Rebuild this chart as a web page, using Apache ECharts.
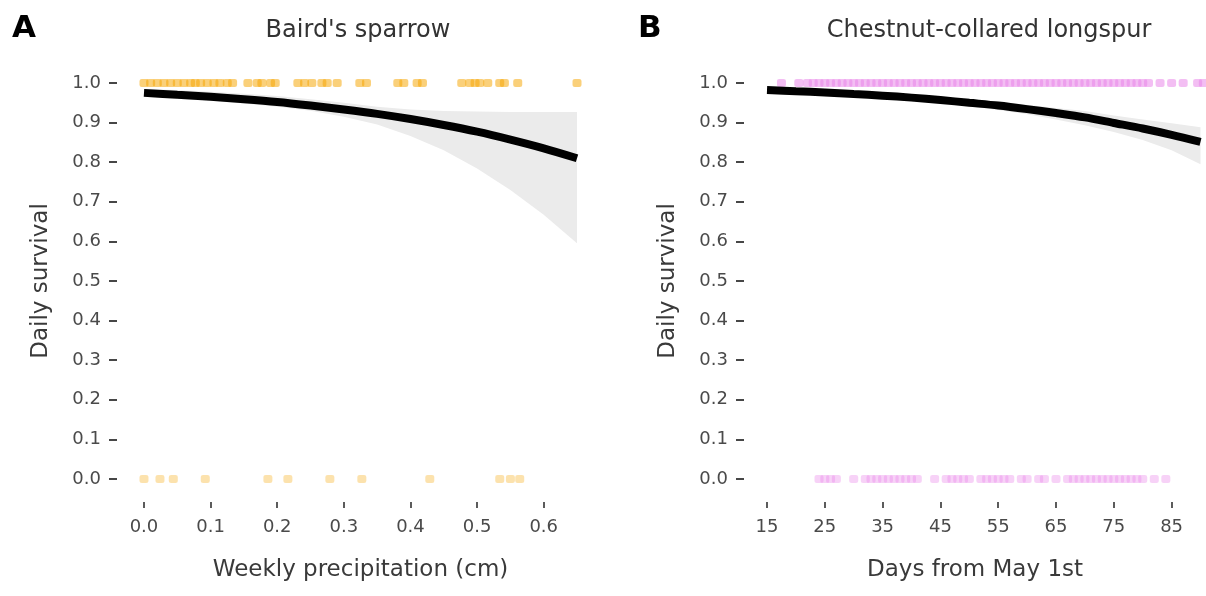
<!DOCTYPE html>
<html>
<head>
<meta charset="utf-8">
<script src="https://cdn.jsdelivr.net/npm/echarts@6/dist/echarts.min.js"></script>
<style>
html,body{margin:0;padding:0;background:#fff;}
#c{width:1206px;height:596px;}
</style>
</head>
<body>
<div id="c"></div>
<script>
// ---- Panel A: Baird's sparrow ----
const baSurvived = [0, 0.01, 0.02, 0.03, 0.04, 0.05, 0.06, 0.07, 0.077, 0.085, 0.095, 0.105, 0.114, 0.125, 0.133, 0.156, 0.17, 0.177, 0.19, 0.197, 0.231, 0.241, 0.252, 0.267, 0.275, 0.29, 0.324, 0.334, 0.381, 0.39, 0.41, 0.418, 0.477, 0.489, 0.497, 0.504, 0.516, 0.534, 0.541, 0.561, 0.65];
const baFailed = [0, 0.024, 0.044, 0.092, 0.186, 0.216, 0.279, 0.327, 0.429, 0.534, 0.55, 0.564];
const baCurveX = [0, 0.05, 0.10, 0.15, 0.20, 0.25, 0.30, 0.35, 0.40, 0.45, 0.50, 0.55, 0.60, 0.65];
const baFit   = [0.975, 0.970, 0.965, 0.959, 0.952, 0.943, 0.933, 0.922, 0.909, 0.894, 0.877, 0.857, 0.835, 0.810];
const baUpper = [0.985, 0.982, 0.978, 0.973, 0.967, 0.959, 0.950, 0.940, 0.933, 0.929, 0.928, 0.927, 0.927, 0.927];
const baLower = [0.965, 0.960, 0.955, 0.948, 0.940, 0.930, 0.915, 0.895, 0.866, 0.830, 0.784, 0.730, 0.667, 0.595];
const baTicks = [0, 0.1, 0.2, 0.3, 0.4, 0.5, 0.6];

// ---- Panel B: Chestnut-collared longspur ----
const ccSurvived = [17.5, 20.5, 22, 23, 24, 25, 26, 27, 28, 29, 30, 31, 32, 33, 34, 35, 36, 37, 38, 39, 40, 41, 42, 43, 44, 45, 46, 47, 48, 49, 50, 51, 52, 53, 54, 55, 56, 57, 58, 59, 60, 61, 62, 63, 64, 65, 66, 67, 68, 69, 70, 71, 72, 73, 74, 75, 76, 77, 78, 79, 80, 81, 83, 85, 87, 89.5, 90.5];
const ccFailed = [24, 25, 26, 27, 30, 32, 33, 34, 35, 36, 37, 38, 39, 40, 41, 44, 46, 47, 48, 49, 50, 52, 53, 54, 55, 56, 57, 59, 60, 62, 63, 65, 67, 68, 69, 70, 71, 72, 73, 74, 75, 76, 77, 78, 79, 80, 82, 84];
const ccCurveX = [15, 20, 25, 30, 35, 40, 45, 50, 55, 60, 65, 70, 75, 80, 85, 90];
const ccFit   = [0.982, 0.979, 0.976, 0.972, 0.968, 0.963, 0.957, 0.950, 0.943, 0.934, 0.924, 0.913, 0.899, 0.885, 0.869, 0.851];
const ccUpper = [0.988, 0.985, 0.982, 0.978, 0.974, 0.970, 0.964, 0.958, 0.952, 0.945, 0.937, 0.929, 0.918, 0.908, 0.898, 0.888];
const ccLower = [0.975, 0.972, 0.969, 0.965, 0.961, 0.955, 0.949, 0.941, 0.932, 0.921, 0.908, 0.893, 0.876, 0.856, 0.830, 0.795];
const ccTicks = [15, 25, 35, 45, 55, 65, 75, 85];

const yTicks = [0, 0.1, 0.2, 0.3, 0.4, 0.5, 0.6, 0.7, 0.8, 0.9, 1.0];

const FONT = '"DejaVu Sans", sans-serif';
const TXT = '#4a4a4a';

function xAxisCfg(idx, min, max, ticks, name, fmt) {
  return {
    type: 'value', gridIndex: idx, min: min, max: max,
    name: name, nameLocation: 'middle', nameGap: 57,
    nameTextStyle: { fontFamily: FONT, fontSize: 23, color: '#3a3a3a' },
    axisLine: { show: false, onZero: false },
    splitLine: { show: false },
    axisTick: { show: true, length: 6, customValues: ticks, lineStyle: { color: '#333', width: 1.6 } },
    axisLabel: { customValues: ticks, margin: 16, fontFamily: FONT, fontSize: 18, color: TXT, formatter: fmt }
  };
}
function yAxisCfg(idx) {
  return {
    type: 'value', gridIndex: idx, min: -0.058, max: 1.058,
    name: 'Daily survival', nameLocation: 'middle', nameGap: 64,
    nameTextStyle: { fontFamily: FONT, fontSize: 23, color: '#3a3a3a' },
    axisLine: { show: false, onZero: false },
    splitLine: { show: false },
    axisTick: { show: true, length: 8, customValues: yTicks, lineStyle: { color: '#333', width: 1.8 } },
    axisLabel: { customValues: yTicks, margin: 16, fontFamily: FONT, fontSize: 18, color: TXT,
      formatter: v => Number(v).toFixed(1) }
  };
}

function ribbon(idx, xs, lo, hi) {
  return {
    type: 'custom', xAxisIndex: idx, yAxisIndex: idx, silent: true, z: 1,
    data: [[xs[0], lo[0]]],
    clip: true,
    renderItem: function (params, api) {
      const pts = [];
      for (let i = 0; i < xs.length; i++) pts.push(api.coord([xs[i], hi[i]]));
      for (let i = xs.length - 1; i >= 0; i--) pts.push(api.coord([xs[i], lo[i]]));
      return { type: 'polygon', shape: { points: pts }, style: { fill: '#ebebeb' } };
    }
  };
}
function curve(idx, xs, ys) {
  return {
    type: 'line', xAxisIndex: idx, yAxisIndex: idx, z: 5, silent: true,
    data: xs.map((x, i) => [x, ys[i]]),
    smooth: 0.3, showSymbol: false,
    lineStyle: { color: '#000', width: 8, cap: 'butt' }
  };
}
function pts(idx, xs, yv, color) {
  return {
    type: 'scatter', xAxisIndex: idx, yAxisIndex: idx, z: 3, silent: true,
    data: xs.map(x => [x, yv]),
    symbol: 'roundRect', symbolSize: [9, 8],
    itemStyle: { color: color }
  };
}

const chart = echarts.init(document.getElementById('c'), null, { renderer: 'canvas' });
chart.setOption({
  backgroundColor: '#fff',
  animation: false,
  grid: [
    { left: 117, top: 60, width: 487, height: 442 },
    { left: 744, top: 60, width: 462, height: 442 }
  ],
  xAxis: [
    xAxisCfg(0, -0.0405, 0.6905, baTicks, 'Weekly precipitation (cm)', v => Number(v).toFixed(1)),
    xAxisCfg(1, 11.02, 90.95, ccTicks, 'Days from May 1st', v => String(Math.round(v)))
  ],
  yAxis: [yAxisCfg(0), yAxisCfg(1)],
  graphic: [
    { type: 'text', x: 12, y: 29, style: { text: 'A', font: 'bold 31px ' + FONT, fill: '#000', align: 'left', verticalAlign: 'middle' } },
    { type: 'text', x: 638, y: 29, style: { text: 'B', font: 'bold 31px ' + FONT, fill: '#000', align: 'left', verticalAlign: 'middle' } },
    { type: 'text', x: 358, y: 31, style: { text: "Baird's sparrow", font: '24px ' + FONT, fill: '#333', align: 'center', verticalAlign: 'middle' } },
    { type: 'text', x: 989, y: 31, style: { text: 'Chestnut-collared longspur', font: '24px ' + FONT, fill: '#333', align: 'center', verticalAlign: 'middle' } }
  ],
  series: [
    ribbon(0, baCurveX, baLower, baUpper),
    pts(0, baSurvived, 1, 'rgba(245,165,0,0.65)'),
    pts(0, baFailed, 0, 'rgba(245,165,0,0.4)'),
    curve(0, baCurveX, baFit),
    ribbon(1, ccCurveX, ccLower, ccUpper),
    pts(1, ccSurvived, 1, 'rgba(232,130,232,0.65)'),
    pts(1, ccFailed, 0, 'rgba(232,130,232,0.45)'),
    curve(1, ccCurveX, ccFit)
  ]
});
</script>
</body>
</html>
